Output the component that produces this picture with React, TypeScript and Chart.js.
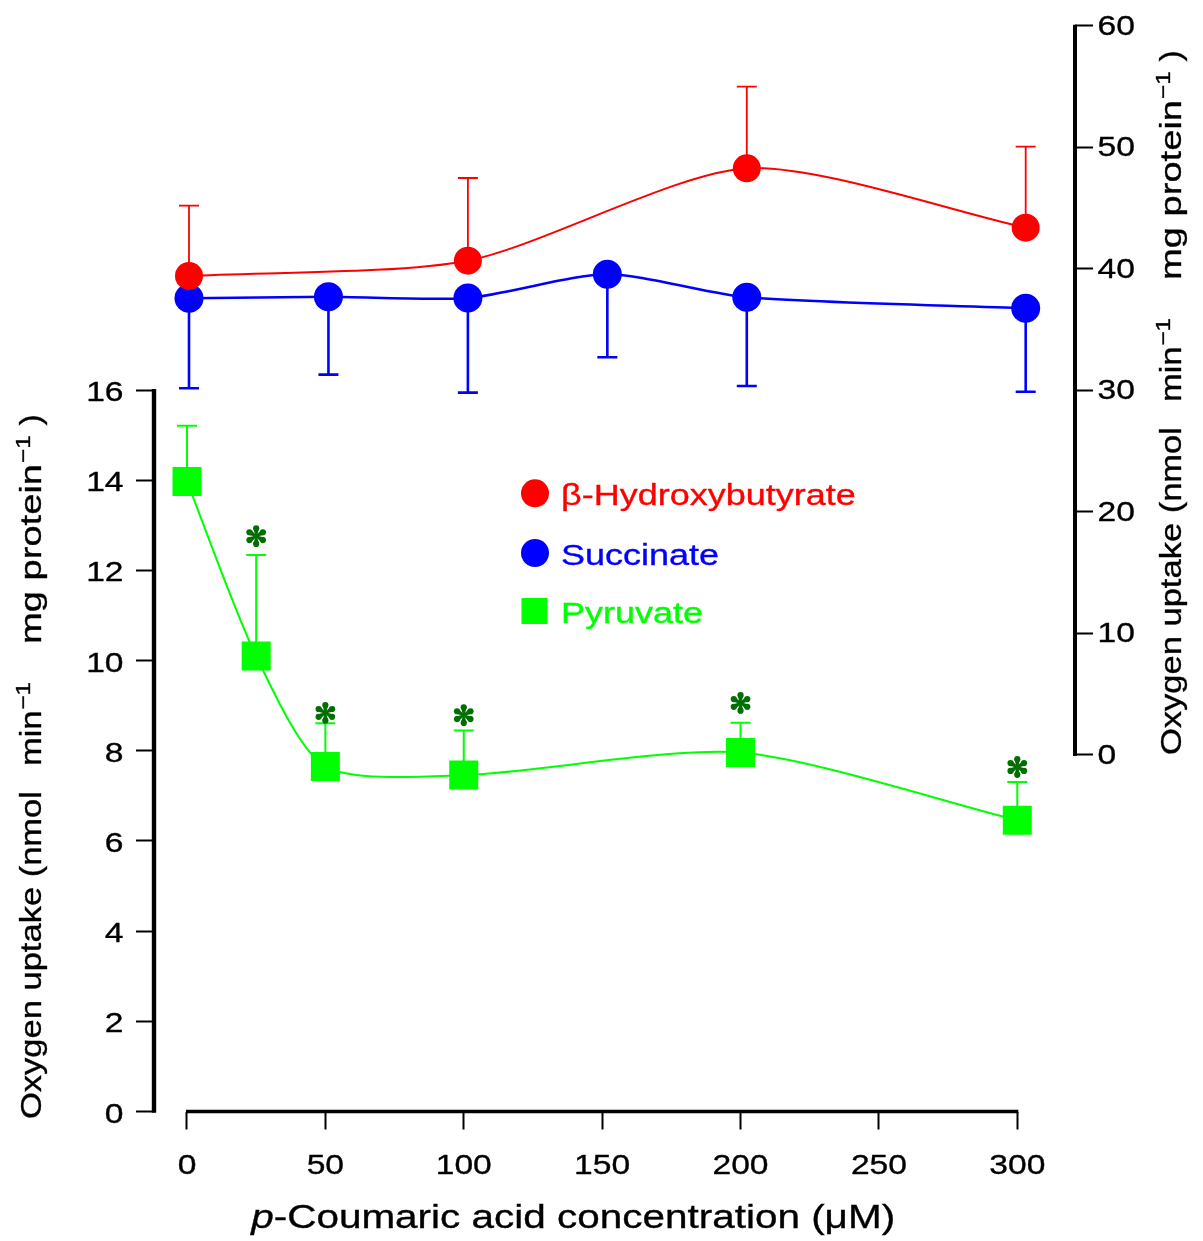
import React, { useEffect, useRef } from "react";
import { Chart, registerables } from "chart.js";

Chart.register(...registerables);

// ---------- data ----------
const xTickValues = [0, 50, 100, 150, 200, 250, 300];
const leftTickValues = [0, 2, 4, 6, 8, 10, 12, 14, 16];
const rightTickValues = [0, 10, 20, 30, 40, 50, 60];

const hbConc = [0, 100, 200, 300];
const hbMean = [39.41, 40.67, 48.27, 43.38];
const hbSD = [5.78, 6.8, 6.71, 6.67];

const succConc = [0, 50, 100, 150, 200, 300];
const succMean = [37.57, 37.7, 37.6, 39.55, 37.66, 36.75];
const succSD = [7.4, 6.41, 7.79, 6.83, 7.3, 6.86];

const pyrConc = [0, 25, 50, 100, 200, 300];
const pyrMean = [13.97, 10.1, 7.65, 7.46, 7.96, 6.46];
const pyrSD = [1.24, 2.24, 0.96, 0.99, 0.66, 0.85];
const pyrStar: (number | null)[] = [null, 12.76, 8.84, 8.79, 9.06, 7.64];

const seriesLabels = ["β-Hydroxybutyrate", "Succinate", "Pyruvate"];
const seriesColors = ["#ff0000", "#0000ff", "#00ff00"];
const starColor = "#006e00";

const xTitleItalic = "p";
const xTitleRest = "-Coumaric acid concentration (μM)";

// ---------- helpers ----------
const FONT = '"Liberation Sans", Arial, Helvetica, sans-serif';
const SX = 1.2;
const THICK = 0.35;

function stretchText(
  ctx: CanvasRenderingContext2D,
  text: string,
  x: number,
  y: number,
  align: "left" | "center" | "right",
  size: number,
  sx: number,
  color: string
) {
  ctx.save();
  ctx.font = `${size}px ${FONT}`;
  const w = ctx.measureText(text).width * sx;
  let left = x;
  if (align === "center") left = x - w / 2;
  else if (align === "right") left = x - w;
  ctx.translate(left, y);
  ctx.scale(sx, 1);
  ctx.textAlign = "left";
  ctx.textBaseline = "alphabetic";
  ctx.fillStyle = color;
  ctx.strokeStyle = color;
  ctx.lineWidth = THICK;
  ctx.lineJoin = "round";
  ctx.fillText(text, 0, 0);
  ctx.strokeText(text, 0, 0);
  ctx.restore();
}

type Seg = { t?: string; s?: string; g?: number; sx?: number };
const yTitleSegs: Seg[] = [
  { t: "Oxygen uptake (nmol" },
  { g: 25 },
  { t: "min" },
  { s: "−1" },
  { g: 38 },
  { t: "mg protein", sx: 1.27 },
  { s: "−1" },
  { g: 10 },
  { t: ")" },
];

function drawRotTitle(
  ctx: CanvasRenderingContext2D,
  baseX: number,
  startY: number,
  size: number,
  supSize: number,
  sx: number
) {
  ctx.save();
  ctx.translate(baseX, startY);
  ctx.rotate(-Math.PI / 2);
  ctx.fillStyle = "#000";
  ctx.strokeStyle = "#000";
  ctx.lineWidth = THICK;
  ctx.textAlign = "left";
  ctx.textBaseline = "alphabetic";
  let pos = 0;
  for (const seg of yTitleSegs) {
    if (seg.g !== undefined) {
      pos += seg.g;
      continue;
    }
    const isSup = seg.s !== undefined;
    const txt = (isSup ? seg.s : seg.t) as string;
    const f = seg.sx ?? sx;
    ctx.font = `${isSup ? supSize : size}px ${FONT}`;
    const w = ctx.measureText(txt).width;
    ctx.save();
    ctx.translate(pos + (isSup ? 1 : 0), isSup ? -11.5 : 0);
    ctx.scale(f, 1);
    ctx.fillText(txt, 0, 0);
    ctx.strokeText(txt, 0, 0);
    ctx.restore();
    pos += w * f + (isSup ? 1 : 0);
  }
  ctx.restore();
}

function drawStar(ctx: CanvasRenderingContext2D, cx: number, cy: number) {
  ctx.save();
  ctx.fillStyle = starColor;
  const d = 7.8;
  const rr = 3.1;
  for (let k = 0; k < 6; k++) {
    const a = -Math.PI / 2 + (k * Math.PI) / 3;
    const tx = cx + d * Math.cos(a);
    const ty = cy + d * Math.sin(a);
    const px = -Math.sin(a);
    const py = Math.cos(a);
    ctx.beginPath();
    ctx.moveTo(cx + px * 0.8, cy + py * 0.8);
    ctx.lineTo(tx + px * rr * 0.9, ty + py * rr * 0.9);
    ctx.lineTo(tx - px * rr * 0.9, ty - py * rr * 0.9);
    ctx.lineTo(cx - px * 0.8, cy - py * 0.8);
    ctx.closePath();
    ctx.fill();
    ctx.beginPath();
    ctx.arc(tx, ty, rr, 0, Math.PI * 2);
    ctx.fill();
  }
  ctx.restore();
}

const customPlugin = {
  id: "customDraw",
  beforeDatasetsDraw(chart: any) {
    const ctx: CanvasRenderingContext2D = chart.ctx;
    chart.data.datasets.forEach((ds: any, i: number) => {
      const meta = chart.getDatasetMeta(i);
      const ys = chart.scales[ds.yAxisID];
      ctx.save();
      ctx.strokeStyle = ds.borderColor;
      ctx.lineWidth = ds.errWidth;
      meta.data.forEach((pt: any, j: number) => {
        const v = ds.data[j].y + ds.errDir * ds.errSD[j];
        const ye = ys.getPixelForValue(v);
        ctx.beginPath();
        ctx.moveTo(pt.x, pt.y);
        ctx.lineTo(pt.x, ye);
        ctx.moveTo(pt.x - 10, ye);
        ctx.lineTo(pt.x + 10, ye);
        ctx.stroke();
      });
      ctx.restore();
    });
  },
  afterDraw(chart: any) {
    const ctx: CanvasRenderingContext2D = chart.ctx;
    const { x, yL, yR } = chart.scales;
    const area = chart.chartArea;
    ctx.save();
    ctx.strokeStyle = "#000";
    ctx.lineCap = "butt";
    ctx.lineWidth = 4.4;
    ctx.beginPath();
    ctx.moveTo(area.left, yL.getPixelForValue(0) + 1.2);
    ctx.lineTo(area.left, yL.getPixelForValue(16) - 1);
    ctx.stroke();
    ctx.lineWidth = 4;
    ctx.beginPath();
    ctx.moveTo(area.right, yR.getPixelForValue(0) + 1);
    ctx.lineTo(area.right, yR.getPixelForValue(60) - 1);
    ctx.stroke();
    ctx.lineWidth = 3.4;
    ctx.beginPath();
    ctx.moveTo(x.getPixelForValue(0) - 1, area.bottom);
    ctx.lineTo(x.getPixelForValue(300) + 1, area.bottom);
    ctx.stroke();
    ctx.restore();

    leftTickValues.forEach((v) => {
      stretchText(ctx, String(v), 123.5, yL.getPixelForValue(v) + 11, "right", 28, SX, "#000");
    });
    rightTickValues.forEach((v) => {
      stretchText(ctx, String(v), 1097.5, yR.getPixelForValue(v) + 9, "left", 28, SX, "#000");
    });
    xTickValues.forEach((v) => {
      stretchText(ctx, String(v), x.getPixelForValue(v), 1174, "center", 28, SX, "#000");
    });

    // x title
    ctx.save();
    const xs = 34;
    ctx.font = `italic ${xs}px ${FONT}`;
    const w1 = ctx.measureText(xTitleItalic).width;
    ctx.font = `${xs}px ${FONT}`;
    const w2 = ctx.measureText(xTitleRest).width;
    const sxT = 1.19;
    const total = (w1 + w2) * sxT;
    const cx = (x.getPixelForValue(0) + x.getPixelForValue(300)) / 2 - 29;
    ctx.translate(cx - total / 2, 1228);
    ctx.scale(sxT, 1);
    ctx.fillStyle = "#000";
    ctx.strokeStyle = "#000";
    ctx.lineWidth = THICK;
    ctx.textBaseline = "alphabetic";
    ctx.font = `italic ${xs}px ${FONT}`;
    ctx.fillText(xTitleItalic, 0, 0);
    ctx.strokeText(xTitleItalic, 0, 0);
    ctx.font = `${xs}px ${FONT}`;
    ctx.fillText(xTitleRest, w1, 0);
    ctx.strokeText(xTitleRest, w1, 0);
    ctx.restore();

    drawRotTitle(ctx, 41, 1119, 30, 21, 1.15);
    drawRotTitle(ctx, 1181, 755, 30, 21, 1.15);

    const pMeta = chart.getDatasetMeta(2);
    pyrStar.forEach((v, j) => {
      if (v === null) return;
      const pt = pMeta.data[j];
      drawStar(ctx, pt.x, yL.getPixelForValue(v));
    });

    const legY = [493.3, 553, 611];
    ctx.save();
    seriesLabels.forEach((lab, i) => {
      ctx.fillStyle = seriesColors[i];
      if (i < 2) {
        ctx.beginPath();
        ctx.arc(535, legY[i], 14, 0, Math.PI * 2);
        ctx.fill();
      } else {
        ctx.fillRect(521.5, legY[i] - 13, 26, 26);
      }
      stretchText(ctx, lab, 561, legY[i] + 11.7, "left", 30, SX, seriesColors[i]);
    });
    ctx.restore();
  },
};

export default function App() {
  const ref = useRef<HTMLCanvasElement | null>(null);
  useEffect(() => {
    if (!ref.current) return;
    const datasets: any[] = [
      {
        label: seriesLabels[0],
        data: hbConc.map((c, i) => ({ x: c, y: hbMean[i] })),
        xAxisID: "x2",
        yAxisID: "yR",
        borderColor: seriesColors[0],
        backgroundColor: seriesColors[0],
        borderWidth: 2,
        pointRadius: 14,
        pointHoverRadius: 14,
        pointBorderWidth: 0,
        pointStyle: "circle",
        tension: 0.25,
        errSD: hbSD,
        errDir: 1,
        errWidth: 1.8,
      },
      {
        label: seriesLabels[1],
        data: succConc.map((c, i) => ({ x: c, y: succMean[i] })),
        xAxisID: "x2",
        yAxisID: "yR",
        borderColor: seriesColors[1],
        backgroundColor: seriesColors[1],
        borderWidth: 2.5,
        pointRadius: 14.5,
        pointHoverRadius: 14.5,
        pointBorderWidth: 0,
        pointStyle: "circle",
        tension: 0.25,
        errSD: succSD,
        errDir: -1,
        errWidth: 2.6,
      },
      {
        label: seriesLabels[2],
        data: pyrConc.map((c, i) => ({ x: c, y: pyrMean[i] })),
        xAxisID: "x",
        yAxisID: "yL",
        borderColor: seriesColors[2],
        backgroundColor: seriesColors[2],
        borderWidth: 2,
        pointRadius: 20.5,
        pointHoverRadius: 20.5,
        pointBorderWidth: 0,
        pointStyle: "rect",
        tension: 0.25,
        errSD: pyrSD,
        errDir: 1,
        errWidth: 2,
      },
    ];
    const tickGrid = {
      display: true,
      drawOnChartArea: false,
      drawTicks: true,
      tickLength: 18,
      tickWidth: 2,
      tickColor: "#000",
      color: "#000",
    };
    const chart = new Chart(ref.current, {
      type: "line",
      data: { datasets },
      plugins: [customPlugin],
      options: {
        animation: false,
        responsive: false,
        maintainAspectRatio: false,
        layout: { padding: { top: 25.7, left: 0, right: 0, bottom: 0 } },
        plugins: { legend: { display: false }, tooltip: { enabled: false } },
        events: [],
        scales: {
          x: {
            type: "linear",
            position: "bottom",
            min: -11.92,
            max: 320.85,
            grid: tickGrid,
            border: { display: false },
            ticks: { display: false },
            afterBuildTicks: (s: any) => {
              s.ticks = xTickValues.map((v) => ({ value: v }));
            },
            afterFit: (s: any) => {
              s.height = 129.5;
            },
          },
          x2: {
            type: "linear",
            display: false,
            min: -12.55,
            max: 317.68,
          },
          yL: {
            type: "linear",
            position: "left",
            min: 0,
            max: 24.08,
            grid: tickGrid,
            border: { display: false },
            ticks: { display: false },
            afterBuildTicks: (s: any) => {
              s.ticks = leftTickValues.map((v) => ({ value: v }));
            },
            afterFit: (s: any) => {
              s.width = 154;
            },
          },
          yR: {
            type: "linear",
            position: "right",
            min: -29.33,
            max: 60,
            grid: tickGrid,
            border: { display: false },
            ticks: { display: false },
            afterBuildTicks: (s: any) => {
              s.ticks = rightTickValues.map((v) => ({ value: v }));
            },
            afterFit: (s: any) => {
              s.width = 128;
            },
          },
        },
      } as any,
    });
    return () => chart.destroy();
  }, []);
  return (
    <div style={{ position: "fixed", left: 0, top: 0, width: 1203, height: 1241, background: "#fff" }}>
      <canvas ref={ref} width={1203} height={1241} style={{ display: "block", width: 1203, height: 1241 }} />
    </div>
  );
}
